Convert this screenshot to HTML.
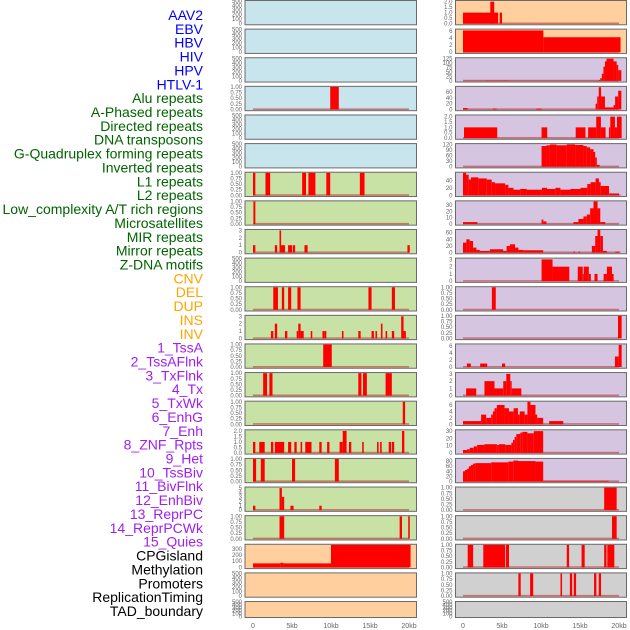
<!DOCTYPE html>
<html><head><meta charset="utf-8"><style>
html,body{margin:0;padding:0;background:#fff;}
svg{display:block;font-family:"Liberation Sans",sans-serif;}
</style></head><body>
<svg id="chart" width="630" height="630" viewBox="0 0 630 630" xmlns="http://www.w3.org/2000/svg"></svg>
<script>
// ---- label data ----
const labelNames = ["AAV2","EBV","HBV","HIV","HPV","HTLV-1","Alu repeats","A-Phased repeats","Directed repeats","DNA transposons","G-Quadruplex forming repeats","Inverted repeats","L1 repeats","L2 repeats","Low_complexity A/T rich regions","Microsatellites","MIR repeats","Mirror repeats","Z-DNA motifs","CNV","DEL","DUP","INS","INV","1_TssA","2_TssAFlnk","3_TxFlnk","4_Tx","5_TxWk","6_EnhG","7_Enh","8_ZNF_Rpts","9_Het","10_TssBiv","11_BivFlnk","12_EnhBiv","13_ReprPC","14_ReprPCWk","15_Quies","CPGisland","Methylation","Promoters","ReplicationTiming","TAD_boundary"];
const labelGroups = [0,0,0,0,0,0,1,1,1,1,1,1,1,1,1,1,1,1,1,2,2,2,2,2,3,3,3,3,3,3,3,3,3,3,3,3,3,3,3,4,4,4,4,4];
const groupColors = ["#0000ff","#006400","#ffa500","#a020f0","#000000"];

// ---- tick sets ----
const T500 = ["0","100","200","300","400","500"];
const T1 = ["0.00","0.25","0.50","0.75","1.00"];
const T2 = ["0.0","0.5","1.0","1.5","2.0"];
const T3 = ["0","1","2","3"];
const T5 = ["0","1","2","3","4","5"];
const T300 = ["0","100","200","300"];
const T6 = ["0","2","4","6"];
const T125 = ["0","25","50","75","100","125"];
const T60 = ["0","20","40","60"];
const T120 = ["0","30","60","90","120"];
const T40 = ["0","20","40"];
const T30 = ["0","10","20","30"];
const T80 = ["0","20","40","60","80"];

// ---- left column series: [startKb, endKb, value] ----
const L3 = [[9.9,11.0,1]];
const L6 = [[0,0.3,1],[1.6,2.2,1],[6.3,6.8,1],[7.1,8.0,1],[9.4,9.9,1],[13.7,14.3,1]];
const L7 = [[0.05,0.3,1]];
const L8 = [[0,0.3,1],[2.8,3.1,1],[3.4,3.6,3],[3.6,4.1,1],[4.5,5.0,1],[5.1,5.4,1],[6.6,7.0,1],[19.8,20.1,1]];
const L10 = [[2.6,3.2,1],[3.7,4.0,1],[4.5,4.9,1],[5.7,6.1,1],[14.8,15.2,1],[17.8,18.2,1]];
const L11 = [[2.3,2.6,1],[2.8,3.1,2],[4.1,4.4,1],[5.6,5.8,1],[5.8,6.1,2],[6.1,6.5,1],[7.4,7.6,1],[8.9,9.2,1],[9.2,9.4,1],[11.4,11.6,1],[13.5,13.8,1],[15.2,15.5,1],[15.7,15.9,1],[16.4,16.6,2],[17.0,17.2,1],[17.8,18.1,1],[19.0,19.3,3],[19.3,19.6,1]];
const L12 = [[9.0,10.1,1]];
const L13 = [[1.3,1.8,1],[2.1,2.5,1],[13.5,13.9,1],[14.1,14.6,1],[17.0,17.8,1]];
const L14 = [[19.2,19.5,1]];
const L15 = [[0,0.3,1],[0.8,1.5,1],[2.3,2.6,1],[2.8,4.0,1],[4.5,4.9,1],[5.3,5.6,1],[6.1,6.3,1],[6.7,7.5,1],[8.5,8.8,1],[9.5,9.8,1],[11.1,11.5,1],[11.5,12.0,2],[12.3,12.6,1],[14.0,14.2,1],[15.9,16.1,1],[16.3,16.5,1],[17.4,17.7,1],[17.8,18.1,1],[19.1,19.4,2]];
const L16 = [[0,0.4,1],[1.0,1.5,1],[5.0,5.4,1],[10.5,11.0,1]];
const L17 = [[0,0.3,1],[3.4,3.7,5],[3.7,4.0,3],[4.8,5.2,1],[8.5,8.8,1]];
const L18 = [[3.4,4.0,1],[18.8,19.1,1],[19.9,20.1,1]];
const L19 = [[0,3.5,65],[3.5,3.9,75],[3.9,10.0,65],[10.0,20.2,365]];

// ---- right column series ----
const R0 = [[0,4.5,1],[3.5,4.0,2],[4.7,5.0,1]];
const R1 = [[0,10.3,6.1],[10.3,20.2,4.2]];
const R2 = [[0,3.0,1],[3.0,5.8,2],[5.8,17.4,1],[17.4,17.6,5],[17.6,17.8,15],[17.8,18.0,40],[18.0,18.2,80],[18.2,18.4,110],[18.4,19.3,125],[19.3,19.7,110],[19.7,19.9,90],[19.9,20.3,60]];
const R3 = [[0,0.6,5],[3.8,4.3,3],[9.4,10.1,3],[17.0,17.2,20],[17.2,17.4,45],[17.4,17.7,77],[17.7,18.2,45],[18.2,19.1,7],[19.1,19.3,7],[19.3,19.5,15],[19.5,19.9,45],[19.9,20.3,65]];
const R4 = [[0.13,4.39,1],[10.07,10.8,1],[14.45,15.7,1],[16.04,17.08,1],[17.08,17.68,2],[17.68,18.28,1],[18.71,18.88,1],[18.88,19.48,2],[19.48,19.74,1],[19.74,20.34,2]];
const R5 = [[10.07,10.71,112],[10.71,11.14,116],[11.14,12.0,120],[12.0,13.29,116],[13.29,14.37,121],[14.37,15.44,118],[15.44,15.87,112],[15.87,16.3,105],[16.3,16.73,95],[16.73,16.95,80],[16.95,17.16,50],[17.16,17.51,10]];
const R6 = [[0,0.39,60],[0.39,0.73,55],[0.73,1.03,42],[1.03,1.97,48],[1.97,3.04,45],[3.04,3.68,42],[3.68,4.11,35],[4.11,5.4,32],[5.4,5.82,28],[5.82,6.47,20],[6.47,7.33,15],[7.33,8.19,17],[8.19,10.12,15],[10.12,10.77,20],[10.77,11.84,17],[11.84,12.49,20],[12.49,13.78,15],[13.78,15.07,17],[15.07,15.93,20],[15.93,16.36,30],[16.36,17.0,35],[17.0,17.43,45],[17.43,17.65,35],[17.65,18.72,25],[18.72,20.0,5],[20.0,20.2,2]];
const R7 = [[0,1.85,3],[10.07,10.3,7],[10.3,10.7,4],[14.15,14.8,3],[14.8,15.44,8],[15.44,15.87,12],[15.87,16.3,15],[16.3,16.73,25],[16.73,17.25,36],[17.25,17.6,25],[17.6,18.24,3]];
const R8 = [[0,0.43,30],[0.43,0.86,40],[0.86,1.29,35],[1.29,1.72,15],[1.72,2.15,8],[2.15,3.44,5],[3.44,5.16,10],[5.16,5.59,5],[5.59,6.02,20],[6.02,6.67,25],[6.67,7.1,15],[7.1,7.74,8],[7.74,10.28,7],[14.15,14.37,3],[14.8,15.01,3],[16.52,16.95,20],[16.95,17.25,50],[17.25,17.6,68],[17.6,17.94,50],[17.94,18.45,5],[19.53,20.17,3]];
const R9 = [[10.07,11.48,3],[11.48,13.63,2],[14.71,15.35,2],[15.35,15.48,1],[15.48,16.13,2],[16.13,16.39,1],[16.86,17.25,1],[18.03,18.45,1],[18.45,19.1,2],[19.1,19.31,1]];
const R10 = [[3.7,4.2,1]];
const R11 = [[19.87,20.34,1]];
const R12 = [[0.5,1.0,1],[2.2,3.1,1],[5.0,5.4,1],[19.48,19.96,3],[19.96,20.34,6.3]];
const R13 = [[0.4,1.7,1],[2.75,4.04,2],[4.04,5.16,1],[5.16,5.55,2],[5.55,6.06,3],[6.06,6.24,2],[6.24,7.48,1]];
const R14 = [[0,2.32,1],[2.32,2.97,3],[2.97,3.61,2],[3.61,3.83,3],[3.83,4.04,4],[4.04,4.34,5],[4.34,5.33,6],[5.33,5.89,5],[5.89,6.49,4],[6.49,7.05,5],[7.05,7.27,3],[7.27,7.91,4],[7.91,8.26,3],[8.26,8.65,7],[8.65,9.29,6],[9.29,9.51,3],[9.51,10.28,2],[11.05,12.86,1]];
const R15 = [[0,0.52,4],[0.52,0.86,5],[0.86,1.37,7],[1.37,1.81,9],[1.81,2.75,11],[2.75,4.34,12],[4.34,4.6,11],[4.6,5.42,12],[5.42,6.2,11],[6.2,6.41,14],[6.41,6.62,18],[6.62,6.84,22],[6.84,7.35,26],[7.35,7.61,28],[7.61,8.26,29],[8.26,9.08,27],[9.08,10.28,30]];
const R16 = [[0,0.26,40],[0.26,0.52,45],[0.52,0.77,50],[0.77,1.03,60],[1.03,1.29,65],[1.29,1.59,70],[1.59,3.61,72],[3.61,5.81,75],[5.81,6.45,78],[6.45,7.05,82],[7.05,9.29,80],[9.29,10.28,78],[10.28,18.67,3]];
const R17 = [[18.1,19.7,1]];
const R18 = [[19.1,19.7,1]];
const R19 = [[0.6,1.3,1],[2.6,5.4,1],[5.5,5.9,1],[13.3,13.6,1],[15.2,15.6,1],[18.1,18.4,1],[18.5,19.4,1]];
const R20 = [[7.1,7.4,1],[8.6,9.0,1],[12.5,12.7,1],[13.7,14.0,1],[14.2,14.5,1],[16.8,17.1,1],[17.4,17.7,1]];

const xTickKb = [0,5,10,15,20];
const xTickLabels = ["0","5kb","10kb","15kb","20kb"];

const BLUE="#c8e4ec", GREEN="#c8e1a4", PEACH="#ffd09e", PURPLE="#d5c5e1", GRAY="#d0d0d0";
const leftRows = [
 [null,T500,500,BLUE],[null,T500,500,BLUE],[null,T500,500,BLUE],[L3,T1,1,BLUE],[null,T500,500,BLUE],[null,T500,500,BLUE],
 [L6,T1,1,GREEN],[L7,T1,1,GREEN],[L8,T3,3.05,GREEN],[null,T500,500,GREEN],[L10,T1,1,GREEN],[L11,T3,3.05,GREEN],
 [L12,T1,1,GREEN],[L13,T1,1,GREEN],[L14,T1,1,GREEN],[L15,T2,2.05,GREEN],[L16,T1,1,GREEN],[L17,T5,5.1,GREEN],[L18,T1,1,GREEN],
 [L19,T300,365,PEACH],[null,T500,500,PEACH],[null,T500,500,PEACH]];
const rightRows = [
 [R0,T2,2.05,PEACH],[R1,T6,6.3,PEACH],[R2,T125,127,PURPLE],[R3,T60,78,PURPLE],[R4,T2,2.1,PURPLE],[R5,T120,122,PURPLE],
 [R6,T40,60,PURPLE],[R7,T30,36,PURPLE],[R8,T60,68,PURPLE],[R9,T3,3.1,PURPLE],[R10,T1,1,PURPLE],[R11,T1,1,PURPLE],
 [R12,T6,6.4,PURPLE],[R13,T3,3.1,PURPLE],[R14,T6,7,PURPLE],[R15,T30,31,PURPLE],[R16,T80,88,PURPLE],
 [R17,T1,1,GRAY],[R18,T1,1,GRAY],[R19,T1,1,GRAY],[R20,T1,1,GRAY],[null,T500,500,GRAY]];

const NS="http://www.w3.org/2000/svg";
const svg=document.getElementById('chart');
function mk(tag,attrs,parent){const e=document.createElementNS(NS,tag);for(const k in attrs)e.setAttribute(k,attrs[k]);(parent||svg).appendChild(e);return e;}

labelNames.forEach((n,i)=>{
  const t=mk('text',{x:203,y:15+i*13.86+5,'text-anchor':'end','font-size':'14',fill:groupColors[labelGroups[i]]});
  t.textContent=n;
  
  
});

const cols=[{rows:leftRows,x0:245,x1:416.5,kb0:253,name:'left'},{rows:rightRows,x0:455.5,x1:626.5,kb0:463,name:'right'}];
const KBPX=7.8;
cols.forEach(col=>{
  const xs=kb=>col.kb0+kb*KBPX;
  col.rows.forEach((r,i)=>{
    const [series,ticks,ymax,bg]=r;
    const top=0.5+i*28.62, h=(i===21?16:24.3), bot=top+h;
    const g=mk('g',{});
    
    
    mk('rect',{x:col.x0,y:top,width:col.x1-col.x0,height:h,fill:bg,stroke:'#6a6a6a','stroke-width':1},g);
    const y0=bot-1.2, yTop=top+0.6;
    const ys=v=>y0-(v/ymax)*(y0-yTop);
    ticks.forEach(tl=>{
      const v=parseFloat(tl);
      const t=mk('text',{x:col.x0-3,y:ys(v)+2,'text-anchor':'end','font-size':'6',fill:'#666'},g);
      t.textContent=tl;
      
      
    });
    if(series){
      mk('line',{x1:xs(0),x2:xs(20),y1:y0-0.3,y2:y0-0.3,stroke:'rgba(190,40,40,0.55)','stroke-width':1.6},g);
      series.forEach(s=>{
        const x1=xs(s[0]),x2=xs(s[1]),yv=Math.max(ys(s[2]),yTop);
        const b=mk('rect',{x:x1,y:yv,width:Math.max(x2-x1,1),height:y0-yv,fill:'#ff0000'},g);
        
        
      });
    }
  });
  xTickKb.forEach((k,j)=>{
    const t=mk('text',{x:xs(k),y:628,'text-anchor':'middle','font-size':'7',fill:'#666'});
    t.textContent=xTickLabels[j];
    
    
  });
});
</script>
</body></html>
